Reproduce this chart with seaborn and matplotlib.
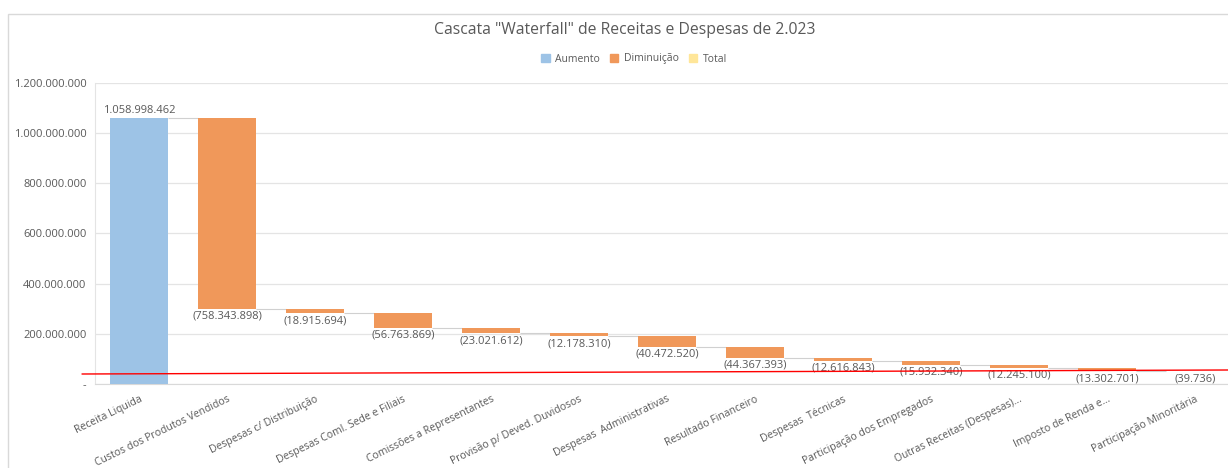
import numpy as np
import pandas as pd
import matplotlib
matplotlib.use("Agg")
import matplotlib.pyplot as plt
import seaborn as sns
from matplotlib.patches import Rectangle, Patch
from matplotlib.lines import Line2D

# Data
categories = ["Receita Liquida", "Custos dos Produtos Vendidos", "Despesas c/ Distribuição",
              "Despesas Coml. Sede e Filiais", "Comissões a Representantes",
              "Provisão p/ Deved. Duvidosos", "Despesas  Administrativas",
              "Resultado Financeiro", "Despesas  Técnicas", "Participação dos Empregados",
              "Outras Receitas (Despesas)...", "Imposto de Renda e...",
              "Participação Minoritária"]
values = [1058998462, -758343898, -18915694, -56763869, -23021612, -12178310,
          -40472520, -44367393, -12616843, -15932340, -12245100, -13302701, -39736]
yticks = [0, 200000000, 400000000, 600000000, 800000000, 1000000000, 1200000000]

blue, orange, yellow = "#9DC3E6", "#F0985A", "#FFE699"
grey_txt = "#595959"

sns.set_style("white")
plt.rcParams['font.family'] = ['Open Sans', 'DejaVu Sans']


def fmt(v):
    return "-" if v == 0 else f"{v:,.0f}".replace(",", ".")


vals = np.array(values, dtype=float)
ends = np.cumsum(vals)
starts = ends - vals
bottoms = np.minimum(starts, ends)
heights = np.abs(vals)
df = pd.DataFrame({"cat": categories, "h": heights})

fig = plt.figure(figsize=(12.28, 4.68), dpi=100)
ax = fig.add_axes([95 / 1228, 1 - 384 / 468, (1239 - 95) / 1228, (384 - 83) / 468])

sns.barplot(data=df, x="cat", y="h", bottom=bottoms, width=0.66, ax=ax,
            color=orange, errorbar=None, zorder=3)
for p, v in zip(ax.patches, values):
    p.set_facecolor(blue if v > 0 else orange)
    p.set_edgecolor("none")

# connector lines between bars
idx = np.arange(len(values))
ax.hlines(ends[:-1], idx[:-1] + 0.33, idx[1:] - 0.33, color="#D0D0D0", lw=0.8, zorder=2)

# data labels
for i, v in enumerate(values):
    if v > 0:
        ax.annotate(fmt(v), (i, ends[i]), xytext=(0, 2), textcoords="offset points",
                    ha="center", va="bottom", fontsize=8, color=grey_txt)
    else:
        ax.annotate("(" + fmt(-v) + ")", (i, ends[i]), xytext=(0, -1.5), textcoords="offset points",
                    ha="center", va="top", fontsize=8, color=grey_txt)

ax.set_xlim(-0.5, len(values) - 0.5)
ax.set_ylim(0, 1200000000)
ax.set_yticks(yticks)
ax.set_yticklabels([fmt(t) for t in yticks], fontsize=8, color=grey_txt)
ax.yaxis.grid(True, color="#E4E4E4", lw=0.9, zorder=0)
ax.set_axisbelow(True)
ax.tick_params(axis="y", length=0, pad=6)
ax.tick_params(axis="x", length=0, pad=7)
ax.set_xticks(idx)
ax.set_xticklabels(categories, rotation=26, ha="right", rotation_mode="anchor",
                   fontsize=7.5, color=grey_txt)
ax.set_xlabel("")
ax.set_ylabel("")
for s in ["top", "right"]:
    ax.spines[s].set_visible(False)
ax.spines["left"].set_color("#E4E4E4")
ax.spines["bottom"].set_color("#D9D9D9")

# title and legend
fig.text(625 / 1228, 1 - 30 / 468, 'Cascata "Waterfall" de Receitas e Despesas de 2.023',
         ha="center", va="center", fontsize=11.3, color=grey_txt)
handles = [Patch(color=blue, label="Aumento"), Patch(color=orange, label="Diminuição"),
           Patch(color=yellow, label="Total")]
fig.legend(handles=handles, loc="center", bbox_to_anchor=(634 / 1228, 1 - 59 / 468), ncol=3,
           frameon=False, fontsize=7.5, handlelength=0.8, handleheight=0.8,
           columnspacing=1.0, handletextpad=0.5, labelcolor=grey_txt)

# chart border
fig.add_artist(Rectangle((8 / 1228, -0.1), 1.2, 1 - 14 / 468 + 0.1, transform=fig.transFigure,
                         fill=False, edgecolor="#D9D9D9", lw=1))
# red marker line drawn over the chart
fig.add_artist(Line2D([82 / 1228, 1.0], [1 - 374 / 468, 1 - 370 / 468],
                      transform=fig.transFigure, color="red", lw=1))

fig.savefig("out.png", dpi=100)
